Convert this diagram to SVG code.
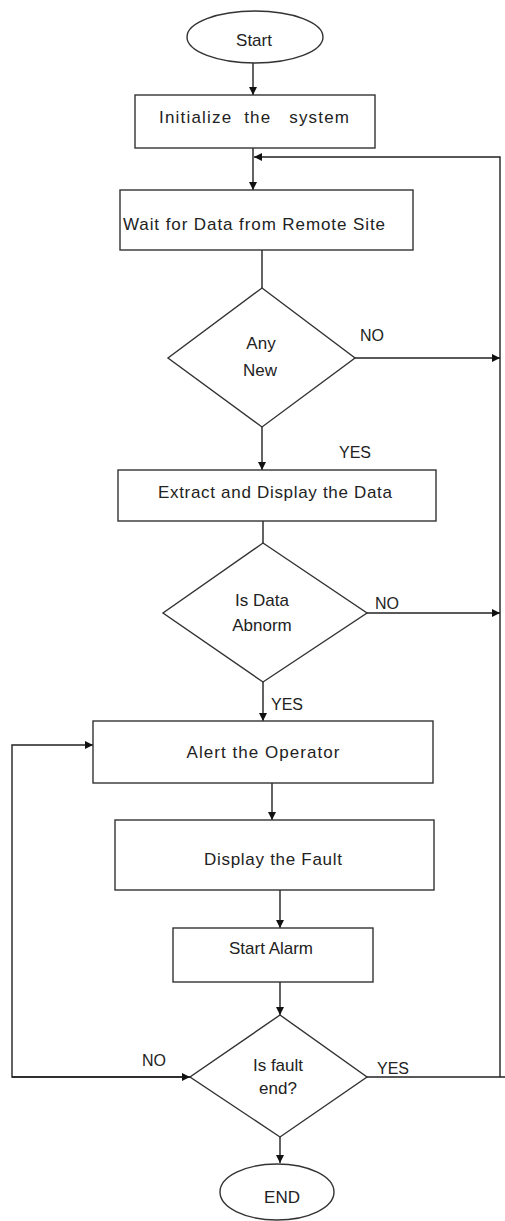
<svg xmlns="http://www.w3.org/2000/svg" width="505" height="1221" viewBox="0 0 505 1221">
<style>
.n{fill:#fff;stroke:#333;stroke-width:1.4}
.t{font-family:"Liberation Sans",Arial,sans-serif;font-size:17px;fill:#222;text-anchor:middle;dominant-baseline:central}
.s{font-size:16px}
.c{fill:none;stroke:#222;stroke-width:1.4}
</style>
<defs>
<marker id="a" viewBox="0 0 10 10" refX="10" refY="5" markerWidth="8" markerHeight="8" markerUnits="userSpaceOnUse" orient="auto">
<path d="M0,0L10,5L0,10z" fill="#111"/>
</marker>
</defs>
<rect width="505" height="1221" fill="#fff"/>
<g id="connectors">
<line class="c" x1="253" y1="63" x2="253" y2="95" marker-end="url(#a)"/>
<line class="c" x1="253" y1="148" x2="253" y2="190" marker-end="url(#a)"/>
<polyline class="c" points="500,1077 500,157 254,157" marker-end="url(#a)"/>
<line class="c" x1="262" y1="250" x2="262" y2="288"/>
<line class="c" x1="355" y1="358" x2="500" y2="358" marker-end="url(#a)"/>
<line class="c" x1="262" y1="427" x2="262" y2="470" marker-end="url(#a)"/>
<line class="c" x1="263" y1="521" x2="263" y2="543"/>
<line class="c" x1="367" y1="613" x2="500" y2="613" marker-end="url(#a)"/>
<line class="c" x1="263" y1="682" x2="263" y2="721" marker-end="url(#a)"/>
<line class="c" x1="272" y1="783" x2="272" y2="820" marker-end="url(#a)"/>
<line class="c" x1="280" y1="890" x2="280" y2="928" marker-end="url(#a)"/>
<line class="c" x1="280" y1="982" x2="280" y2="1015" marker-end="url(#a)"/>
<polyline class="c" points="190,1077 12,1077 12,745 93,745" marker-end="url(#a)"/>
<line class="c" x1="12" y1="1077" x2="190" y2="1077" marker-end="url(#a)"/>
<line class="c" x1="367" y1="1077" x2="505" y2="1077"/>
<line class="c" x1="280" y1="1137" x2="280" y2="1163" marker-end="url(#a)"/>
<text class="t s" x="372" y="335">NO</text>
<text class="t s" x="355" y="452">YES</text>
<text class="t s" x="387" y="603">NO</text>
<text class="t s" x="287" y="704">YES</text>
<text class="t s" x="154" y="1060">NO</text>
<text class="t s" x="393" y="1068">YES</text>
</g>
<g id="start"><ellipse class="n" cx="255" cy="37" rx="68" ry="26"/><text class="t" x="254" y="40">Start</text></g>
<g id="init"><rect class="n" x="135" y="95" width="240" height="53"/><text class="t" x="254" y="117" textLength="190" lengthAdjust="spacing" xml:space="preserve">Initialize  the   system</text></g>
<g id="wait"><rect class="n" x="120" y="190" width="293" height="60"/><text class="t" x="254" y="224" textLength="262" lengthAdjust="spacing">Wait for Data from Remote Site</text></g>
<g id="anynew"><polygon class="n" points="262,288 355,358 262,427 168,358"/><text class="t" x="261" y="343">Any</text><text class="t" x="260" y="370">New</text></g>
<g id="extract"><rect class="n" x="118" y="470" width="318" height="51"/><text class="t" x="275" y="492" textLength="234" lengthAdjust="spacing">Extract and Display the Data</text></g>
<g id="abnorm"><polygon class="n" points="263,543 367,613 263,682 163,613"/><text class="t" x="262" y="600">Is Data</text><text class="t" x="262" y="625">Abnorm</text></g>
<g id="alert"><rect class="n" x="93" y="721" width="340" height="62"/><text class="t" x="263" y="752" textLength="153" lengthAdjust="spacing">Alert the Operator</text></g>
<g id="display"><rect class="n" x="115" y="820" width="319" height="70"/><text class="t" x="273" y="859" textLength="138" lengthAdjust="spacing">Display the Fault</text></g>
<g id="alarm"><rect class="n" x="173" y="928" width="200" height="54"/><text class="t" x="271" y="948">Start Alarm</text></g>
<g id="faultend"><polygon class="n" points="280,1015 367,1077 280,1137 190,1077"/><text class="t" x="278" y="1065">Is fault</text><text class="t" x="278" y="1088">end?</text></g>
<g id="end"><ellipse class="n" cx="277" cy="1192" rx="57" ry="28"/><text class="t" x="282" y="1197">END</text></g>
</svg>
